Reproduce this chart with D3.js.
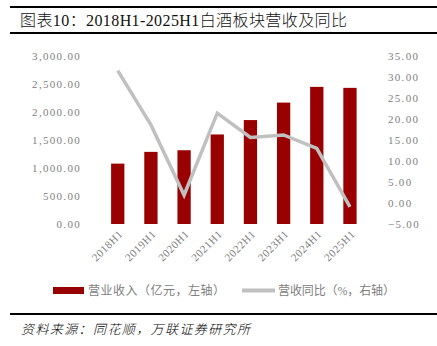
<!DOCTYPE html>
<html><head><meta charset="utf-8">
<script src="https://cdn.jsdelivr.net/npm/d3@7"></script>
<style>
body{margin:0;background:#fff;}
svg{display:block;}
</style></head>
<body>
<script>
const categories = ["2018H1","2019H1","2020H1","2021H1","2022H1","2023H1","2024H1","2025H1"];
const revenue = [1078, 1288, 1317, 1599, 1856, 2168, 2449, 2431];
const yoy = [31.5, 18.6, 1.9, 21.4, 15.6, 16.2, 13.0, -0.9];
const leftTicks = [0, 500, 1000, 1500, 2000, 2500, 3000];
const rightTicks = [-5, 0, 5, 10, 15, 20, 25, 30, 35];
const titleText = "图表10：2018H1-2025H1白酒板块营收及同比";
const legendLabels = ["营业收入（亿元，左轴）", "营收同比（%，右轴）"];
const sourceText = "资料来源：同花顺，万联证券研究所";

const W = 437, H = 346;
const svg = d3.select("body").append("svg").attr("width", W).attr("height", H);
const serif = "'Liberation Serif','Noto Sans CJK SC',serif";

// header lines
svg.append("rect").attr("x",10).attr("y",6).attr("width",W-10).attr("height",2).attr("fill","#000");
svg.append("rect").attr("x",10).attr("y",32).attr("width",W-10).attr("height",2).attr("fill","#000");
svg.append("text").attr("x",20).attr("y",26).attr("font-family",serif).attr("font-size",16)
  .attr("font-weight",300).attr("fill","#111")
  .attr("textLength",327).attr("lengthAdjust","spacing").text(titleText);

const x = d3.scaleBand().domain(categories).range([91.2, 376.5]).padding(0.6);
const yL = d3.scaleLinear().domain([0, 3000]).range([224, 56]);
const yR = d3.scaleLinear().domain([-5, 35]).range([224, 56]);

// bars
svg.append("g").selectAll("rect").data(categories).join("rect")
  .attr("x", d => x(d)).attr("width", x.bandwidth())
  .attr("y", (d,i) => yL(revenue[i])).attr("height", (d,i) => yL(0) - yL(revenue[i]))
  .attr("fill", "#990000");

// line
const line = d3.line().x((d,i) => x(categories[i]) + x.bandwidth()/2).y(d => yR(d));
svg.append("path").datum(yoy).attr("d", line).attr("fill","none")
  .attr("stroke","#c0c0c0").attr("stroke-width",3.5).attr("stroke-linejoin","miter");

// left axis
const fmt = d3.format(",.2f");
const axL = d3.axisLeft(yL).tickValues(leftTicks).tickFormat(fmt).tickSize(0).tickPadding(0);
const gL = svg.append("g").attr("transform","translate(81,0)").call(axL);
gL.select(".domain").remove();
gL.selectAll("text").attr("font-family",serif).attr("font-size",11).attr("fill","#808080")
  .attr("letter-spacing","1.3px");

const axR = d3.axisRight(yR).tickValues(rightTicks).tickFormat(fmt).tickSize(0).tickPadding(0);
const gR = svg.append("g").attr("transform","translate(388,0)").call(axR);
gR.select(".domain").remove();
gR.selectAll("text").attr("font-family",serif).attr("font-size",11).attr("fill","#808080")
  .attr("letter-spacing","1.3px");

// x axis labels
const axX = d3.axisBottom(x).tickSize(0).tickPadding(0);
const gX = svg.append("g").attr("transform","translate(0,232)").call(axX);
gX.select(".domain").remove();
gX.selectAll("text").attr("font-family",serif).attr("font-size",11).attr("fill","#808080")
  .attr("letter-spacing","0.5px")
  .attr("text-anchor","end").attr("dy","0.35em")
  .attr("transform","translate(3,0) rotate(-45)");

// legend
const lg = svg.append("g");
lg.append("rect").attr("x",53).attr("y",287).attr("width",31).attr("height",7).attr("fill","#990000");
lg.append("text").attr("x",88).attr("y",295).attr("font-family",serif).attr("font-size",12)
  .attr("fill","#808080").attr("textLength",137).attr("lengthAdjust","spacing").text(legendLabels[0]);
lg.append("line").attr("x1",242).attr("x2",275).attr("y1",290.5).attr("y2",290.5)
  .attr("stroke","#c0c0c0").attr("stroke-width",4);
lg.append("text").attr("x",278).attr("y",295).attr("font-family",serif).attr("font-size",12)
  .attr("fill","#808080").attr("textLength",117).attr("lengthAdjust","spacing").text(legendLabels[1]);

// source
svg.append("rect").attr("x",10).attr("y",313).attr("width",W-10).attr("height",2).attr("fill","#000");
svg.append("text").attr("x",21).attr("y",334).attr("font-family",serif).attr("font-size",13)
  .attr("font-style","italic").attr("font-weight",300).attr("fill","#000")
  .attr("textLength",229).attr("lengthAdjust","spacing").text(sourceText);
</script>
</body></html>
